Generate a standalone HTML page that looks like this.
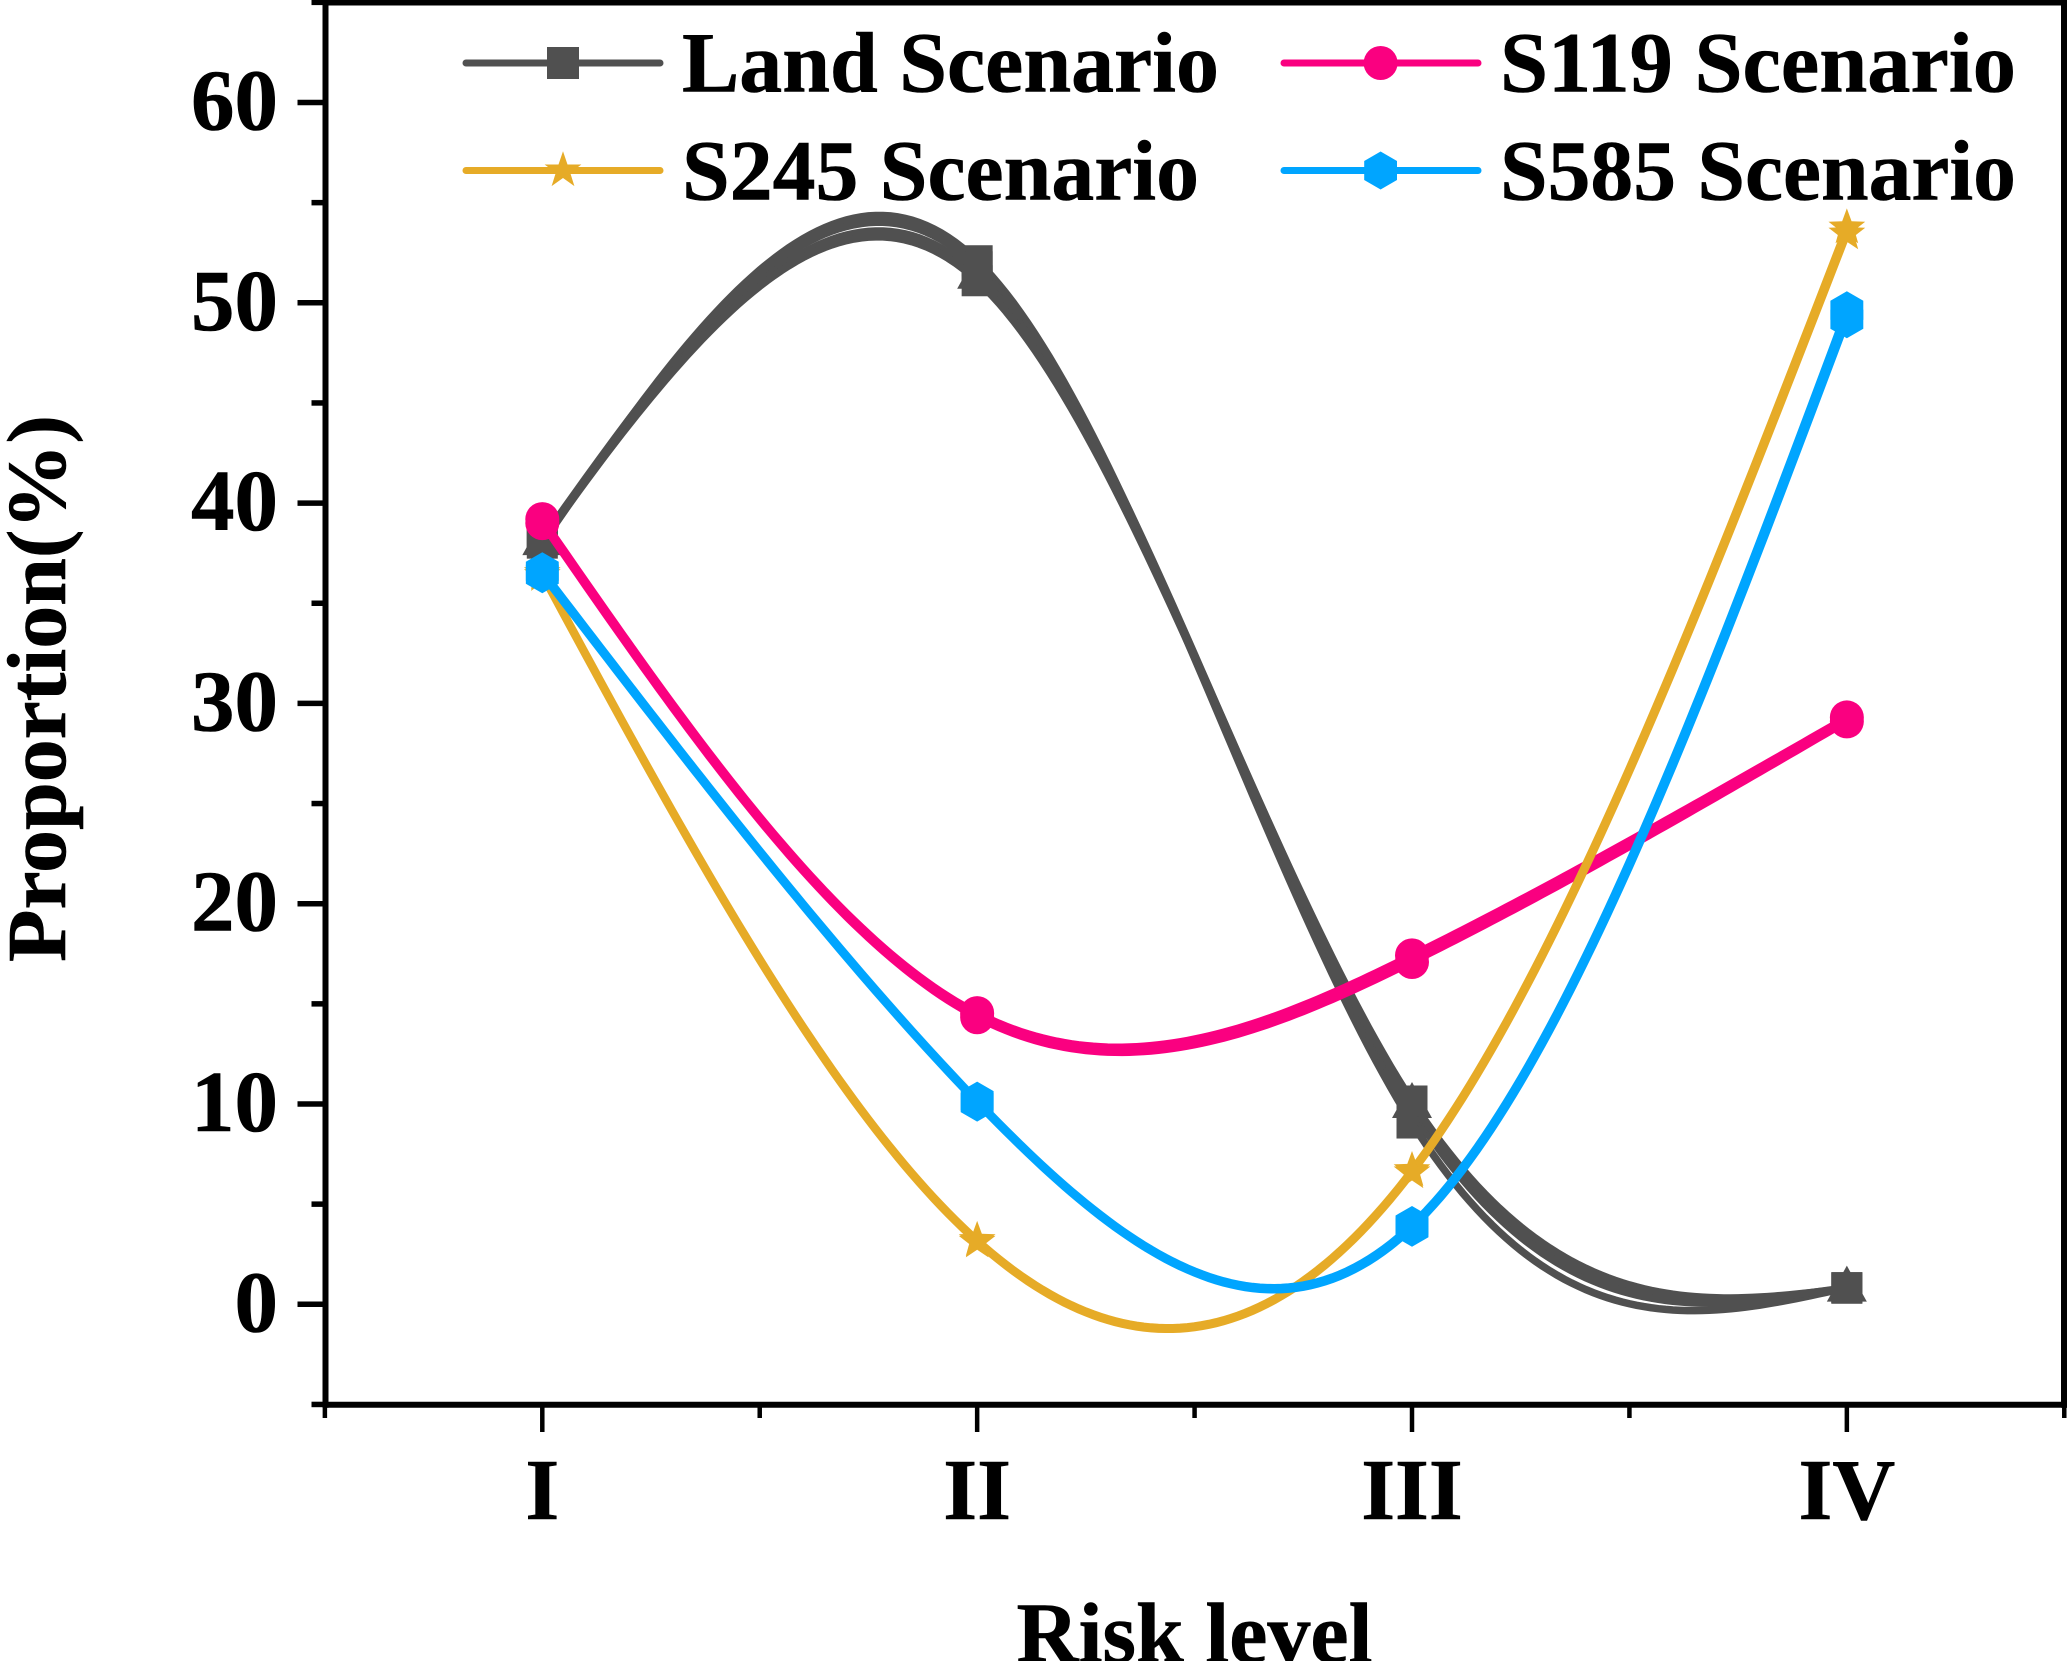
<!DOCTYPE html>
<html lang="en">
<head>
<meta charset="utf-8">
<title>Proportion by risk level</title>
<style>
html,body{margin:0;padding:0;background:#fff;width:2067px;height:1661px;overflow:hidden}
svg{display:block}
text{font-family:"Liberation Serif","Times New Roman",serif;font-weight:bold;fill:#000;stroke:#000;stroke-width:0.6px}
</style>
</head>
<body>
<svg id="chart" xmlns="http://www.w3.org/2000/svg" width="2067" height="1661" viewBox="0 0 2067 1661">
  <rect x="0" y="0" width="2067" height="1661" fill="#ffffff"/>
  <g id="series-layer"></g>
  <g id="axes-layer"></g>
  <text transform="translate(65,962) rotate(-90)" font-size="84" textLength="547" lengthAdjust="spacingAndGlyphs">Proportion(%)</text>
  <text x="1194.5" y="1662" font-size="86" text-anchor="middle">Risk level</text>
  <g>
    <g>
      <line x1="466" y1="63" x2="660" y2="63" stroke="#505050" stroke-width="7" stroke-linecap="round"/>
      <rect x="547" y="47" width="32" height="32" fill="#505050"/>
      <text x="682" y="91.5" font-size="86" textLength="537" lengthAdjust="spacingAndGlyphs">Land Scenario</text>
    </g>
    <g>
      <line x1="1284" y1="63" x2="1478" y2="63" stroke="#fa0080" stroke-width="7" stroke-linecap="round"/>
      <circle cx="1380.6" cy="63" r="17" fill="#fa0080"/>
      <text x="1500" y="91.5" font-size="86" textLength="516" lengthAdjust="spacingAndGlyphs">S119 Scenario</text>
    </g>
    <g>
      <line x1="466" y1="170.5" x2="660" y2="170.5" stroke="#e6ab27" stroke-width="7" stroke-linecap="round"/>
      <polygon points="563,151.2 567.5,164.5 581.4,164.5 570.2,172.8 574.4,186.1 563,178 551.6,186.1 555.8,172.8 544.6,164.5 558.5,164.5" fill="#e6ab27"/>
      <text x="682" y="199.5" font-size="86" textLength="517" lengthAdjust="spacingAndGlyphs">S245 Scenario</text>
    </g>
    <g>
      <line x1="1284" y1="170.5" x2="1478" y2="170.5" stroke="#00a5ff" stroke-width="7" stroke-linecap="round"/>
      <polygon points="1380.6,151.5 1397,161 1397,180 1380.6,189.5 1364.2,180 1364.2,161" fill="#00a5ff"/>
      <text x="1500" y="199.5" font-size="86" textLength="516" lengthAdjust="spacingAndGlyphs">S585 Scenario</text>
    </g>
  </g>
</svg>
<script>
const categories = ["I", "II", "III", "IV"];
const yTickLabels = [0, 10, 20, 30, 40, 50, 60];
const yMinorTicks = [-5, 5, 15, 25, 35, 45, 55, 65];
const xMinorTicks = [0.5, 1.5, 2.5, 3.5, 4.5];

const landRunA = [38.0, 52.1, 9.05, 0.83];
const landRunB = [38.2, 51.8, 9.7, 0.83];
const landRunC = [38.1, 51.4, 10.0, 0.83];
const landRunD = [38.2, 51.1, 10.15, 0.8];
const s119RunA = [39.2, 14.54, 17.42, 29.3];
const s119RunB = [39.0, 14.33, 17.09, 29.1];
const s245RunA = [36.5, 3.2, 6.69, 53.75];
const s245RunB = [36.4, 3.12, 6.58, 53.45];
const s585RunA = [36.6, 10.17, 3.96, 49.63];
const s585RunB = [36.45, 10.07, 3.82, 49.18];

const NS = "http://www.w3.org/2000/svg";
const seriesLayer = document.getElementById("series-layer");
const axesLayer = document.getElementById("axes-layer");

function xScale(v) { return 542.3 + (v - 1) * 434.85; }
function yScale(v) { return 1304.3 - v * 20.03; }

function splinePath(values) {
  const d1 = values[0] - 2 * values[1] + values[2];
  const d2 = values[1] - 2 * values[2] + values[3];
  const m = [0, (24 * d1 - 6 * d2) / 15, (24 * d2 - 6 * d1) / 15, 0];
  const parts = [];
  for (let seg = 0; seg < values.length - 1; seg++) {
    for (let k = seg === 0 ? 0 : 1; k <= 60; k++) {
      const t = k / 60;
      const u = 1 - t;
      const v = m[seg] * u * u * u / 6 + m[seg + 1] * t * t * t / 6 +
        (values[seg] - m[seg] / 6) * u + (values[seg + 1] - m[seg + 1] / 6) * t;
      parts.push((parts.length ? "L" : "M") + xScale(seg + 1 + t).toFixed(2) + " " + yScale(v).toFixed(2));
    }
  }
  return parts.join(" ");
}

function drawCurve(values, color, name) {
  const p = document.createElementNS(NS, "path");
  p.setAttribute("d", splinePath(values));
  p.setAttribute("fill", "none");
  p.setAttribute("stroke", color);
  p.setAttribute("stroke-width", "7.5");
  
  
  seriesLayer.appendChild(p);
}

function shapePoints(kind, cx, cy) {
  const pts = [];
  if (kind === "triangle") {
    pts.push([cx, cy - 22], [cx + 20, cy + 14], [cx - 20, cy + 14]);
  } else if (kind === "hexagon") {
    for (let i = 0; i < 6; i++) {
      const a = Math.PI / 3 * i - Math.PI / 2;
      pts.push([cx + 19 * Math.cos(a), cy + 19 * Math.sin(a)]);
    }
  } else {
    for (let i = 0; i < 10; i++) {
      const a = Math.PI / 5 * i - Math.PI / 2;
      const r = i % 2 === 0 ? 19.3 : 8;
      pts.push([cx + r * Math.cos(a), cy + r * Math.sin(a)]);
    }
  }
  return pts.map(function (q) { return q[0].toFixed(2) + "," + q[1].toFixed(2); }).join(" ");
}

function drawMarkers(values, kind, color, name) {
  values.forEach(function (v, i) {
    const cx = xScale(i + 1);
    const cy = yScale(v);
    let el;
    if (kind === "square") {
      el = document.createElementNS(NS, "rect");
      el.setAttribute("x", cx - 15.5);
      el.setAttribute("y", cy - 15.5);
      el.setAttribute("width", 31);
      el.setAttribute("height", 31);
    } else if (kind === "circle") {
      el = document.createElementNS(NS, "circle");
      el.setAttribute("cx", cx);
      el.setAttribute("cy", cy);
      el.setAttribute("r", 17);
    } else {
      el = document.createElementNS(NS, "polygon");
      el.setAttribute("points", shapePoints(kind, cx, cy));
    }
    el.setAttribute("fill", color);
    
    
    seriesLayer.appendChild(el);
  });
}

function drawSeries(values, kind, color, name) {
  drawCurve(values, color, name + "-line");
  drawMarkers(values, kind, color, name);
}

drawSeries(landRunA, "square", "#505050", "land-run-a");
drawSeries(landRunB, "square", "#505050", "land-run-b");
drawSeries(landRunC, "triangle", "#505050", "land-run-c");
drawSeries(landRunD, "square", "#505050", "land-run-d");
drawSeries(s119RunA, "circle", "#fa0080", "s119-run-a");
drawSeries(s119RunB, "circle", "#fa0080", "s119-run-b");
drawSeries(s245RunA, "star", "#e6ab27", "s245-run-a");
drawSeries(s245RunB, "star", "#e6ab27", "s245-run-b");
drawSeries(s585RunA, "hexagon", "#00a5ff", "s585-run-a");
drawSeries(s585RunB, "hexagon", "#00a5ff", "s585-run-b");

function axisLine(x1, y1, x2, y2, width, name) {
  const l = document.createElementNS(NS, "line");
  l.setAttribute("x1", x1);
  l.setAttribute("y1", y1);
  l.setAttribute("x2", x2);
  l.setAttribute("y2", y2);
  l.setAttribute("stroke", "#000");
  l.setAttribute("stroke-width", width);
  
  
  axesLayer.appendChild(l);
}

function axisLabel(str, x, y, anchor, name) {
  const t = document.createElementNS(NS, "text");
  t.setAttribute("x", x);
  t.setAttribute("y", y);
  t.setAttribute("font-size", "87");
  t.setAttribute("text-anchor", anchor);
  t.textContent = str;
  
  
  axesLayer.appendChild(t);
}

axisLine(325.5, 0, 325.5, 1407.8, 6, "y-axis-line");
axisLine(322.5, 1404.8, 2067, 1404.8, 6, "x-axis-line");
axisLine(322.5, 2.7, 2067, 2.7, 5.6, "top-border");
axisLine(2064, 0, 2064, 1407.8, 6, "right-border");

yTickLabels.forEach(function (v) {
  axisLine(297.5, yScale(v), 325.5, yScale(v), 5.5, "y-tick-" + v);
  axisLabel(String(v), 278, yScale(v) + 27, "end", "y-tick-label-" + v);
});
yMinorTicks.forEach(function (v) {
  axisLine(311.5, yScale(v), 325.5, yScale(v), 5.5, "y-minor-tick-" + v);
});
categories.forEach(function (c, i) {
  axisLine(xScale(i + 1), 1404.8, xScale(i + 1), 1432, 4.5, "x-tick-" + c.toLowerCase());
  axisLabel(c, xScale(i + 1), 1519, "middle", "x-tick-label-" + c.toLowerCase());
});
xMinorTicks.forEach(function (v) {
  axisLine(xScale(v), 1404.8, xScale(v), 1418, 4.5, "x-minor-tick-" + v);
});
</script>
</body>
</html>
